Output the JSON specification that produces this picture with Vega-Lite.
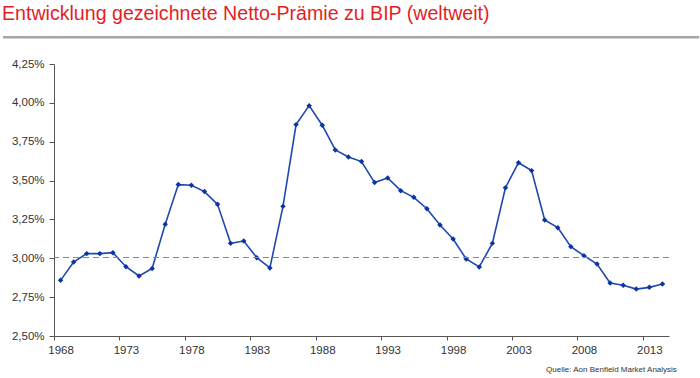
{
  "$schema": "https://vega.github.io/schema/vega-lite/v6.json",
  "autosize": "none",
  "width": 615,
  "height": 272,
  "padding": {"left": 54, "top": 64, "right": 31, "bottom": 42},
  "background": "white",
  "config": {
    "view": {"stroke": null},
    "font": "Liberation Sans",
    "axis": {"labelOverlap": false, "labelFlush": false, "grid": false}
  },
  "title": {
    "text": "Entwicklung gezeichnete Netto-Prämie zu BIP (weltweit)",
    "anchor": "start",
    "frame": "group",
    "font": "Liberation Sans",
    "fontSize": 19.6,
    "fontWeight": "normal",
    "color": "#E41E26",
    "baseline": "alphabetic",
    "orient": "top",
    "offset": 0,
    "dx": -52,
    "dy": 4
  },
  "datasets": {
    "series": [
      {"year": 1968, "value": 2.858},
      {"year": 1969, "value": 2.976},
      {"year": 1970, "value": 3.030},
      {"year": 1971, "value": 3.030},
      {"year": 1972, "value": 3.036},
      {"year": 1973, "value": 2.946},
      {"year": 1974, "value": 2.886},
      {"year": 1975, "value": 2.935},
      {"year": 1976, "value": 3.219},
      {"year": 1977, "value": 3.474},
      {"year": 1978, "value": 3.470},
      {"year": 1979, "value": 3.429},
      {"year": 1980, "value": 3.347},
      {"year": 1981, "value": 3.096},
      {"year": 1982, "value": 3.111},
      {"year": 1983, "value": 3.004},
      {"year": 1984, "value": 2.938},
      {"year": 1985, "value": 3.334},
      {"year": 1986, "value": 3.860},
      {"year": 1987, "value": 3.982},
      {"year": 1988, "value": 3.856},
      {"year": 1989, "value": 3.697},
      {"year": 1990, "value": 3.652},
      {"year": 1991, "value": 3.622},
      {"year": 1992, "value": 3.487},
      {"year": 1993, "value": 3.517},
      {"year": 1994, "value": 3.435},
      {"year": 1995, "value": 3.392},
      {"year": 1996, "value": 3.319},
      {"year": 1997, "value": 3.214},
      {"year": 1998, "value": 3.124},
      {"year": 1999, "value": 2.996},
      {"year": 2000, "value": 2.944},
      {"year": 2001, "value": 3.096},
      {"year": 2002, "value": 3.454},
      {"year": 2003, "value": 3.615},
      {"year": 2004, "value": 3.564},
      {"year": 2005, "value": 3.246},
      {"year": 2006, "value": 3.197},
      {"year": 2007, "value": 3.075},
      {"year": 2008, "value": 3.017},
      {"year": 2009, "value": 2.963},
      {"year": 2010, "value": 2.841},
      {"year": 2011, "value": 2.826},
      {"year": 2012, "value": 2.802},
      {"year": 2013, "value": 2.813},
      {"year": 2014, "value": 2.835}
    ]
  },
  "layer": [
    {
      "data": {"name": "series"},
      "mark": {
        "type": "line",
        "color": "#2047B0",
        "strokeWidth": 1.6,
        "point": {"shape": "diamond", "size": 30, "filled": true, "color": "#0D359F"}
      },
      "encoding": {
        "x": {
          "field": "year",
          "type": "quantitative",
          "scale": {"domain": [1967.5, 2014.5], "nice": false, "zero": false},
          "axis": {
            "title": null,
            "values": [1968, 1973, 1978, 1983, 1988, 1993, 1998, 2003, 2008, 2013],
            "format": "d",
            "tickOffset": -6.54,
            "labelOffset": 6.54,
            "tickSize": 4,
            "tickColor": "#555555",
            "domainColor": "#555555",
            "labelPadding": 4,
            "labelFont": "Liberation Sans",
            "labelFontSize": 11.5,
            "labelColor": "#333333"
          }
        },
        "y": {
          "field": "value",
          "type": "quantitative",
          "scale": {"domain": [2.5, 4.25], "nice": false, "zero": false},
          "axis": {
            "title": null,
            "values": [2.5, 2.75, 3.0, 3.25, 3.5, 3.75, 4.0, 4.25],
            "labelExpr": "replace(format(datum.value, '.2f'), '.', ',') + '%'",
            "tickSize": 5,
            "tickColor": "#555555",
            "domainColor": "#555555",
            "labelPadding": 5,
            "labelFont": "Liberation Sans",
            "labelFontSize": 11.5,
            "labelColor": "#333333"
          }
        }
      }
    },
    {
      "data": {"values": [{"avg": 3.005}]},
      "mark": {"type": "rule", "stroke": "#6FAF00", "strokeWidth": 1.2, "strokeDash": [6, 4]},
      "encoding": {
        "y": {
          "field": "avg",
          "type": "quantitative",
          "axis": {
            "title": null,
            "values": [2.5, 2.75, 3.0, 3.25, 3.5, 3.75, 4.0, 4.25],
            "labelExpr": "replace(format(datum.value, '.2f'), '.', ',') + '%'",
            "tickSize": 5,
            "tickColor": "#555555",
            "domainColor": "#555555",
            "labelPadding": 5,
            "labelFont": "Liberation Sans",
            "labelFontSize": 11.5,
            "labelColor": "#333333"
          }
        }
      }
    },
    {
      "data": {"values": [{"x1": 1963.6, "x2": 2016.8, "y": 4.422}]},
      "mark": {"type": "rule", "stroke": "#A6A6A6", "strokeWidth": 2.5},
      "encoding": {
        "x": {"field": "x1", "type": "quantitative"},
        "x2": {"field": "x2"},
        "y": {
          "field": "y",
          "type": "quantitative",
          "axis": {
            "title": null,
            "values": [2.5, 2.75, 3.0, 3.25, 3.5, 3.75, 4.0, 4.25],
            "labelExpr": "replace(format(datum.value, '.2f'), '.', ',') + '%'",
            "tickSize": 5,
            "tickColor": "#555555",
            "domainColor": "#555555",
            "labelPadding": 5,
            "labelFont": "Liberation Sans",
            "labelFontSize": 11.5,
            "labelColor": "#333333"
          }
        }
      }
    },
    {
      "data": {"values": [{"x": 2015.1, "y": 2.2813, "label": "Quelle: Aon Benfield Market Analysis"}]},
      "mark": {"type": "text", "align": "right", "baseline": "middle", "font": "Liberation Sans", "fontSize": 8, "fill": "#333333"},
      "encoding": {
        "x": {"field": "x", "type": "quantitative"},
        "y": {
          "field": "y",
          "type": "quantitative",
          "axis": {
            "title": null,
            "values": [2.5, 2.75, 3.0, 3.25, 3.5, 3.75, 4.0, 4.25],
            "labelExpr": "replace(format(datum.value, '.2f'), '.', ',') + '%'",
            "tickSize": 5,
            "tickColor": "#555555",
            "domainColor": "#555555",
            "labelPadding": 5,
            "labelFont": "Liberation Sans",
            "labelFontSize": 11.5,
            "labelColor": "#333333"
          }
        },
        "text": {"field": "label"}
      }
    }
  ]
}
